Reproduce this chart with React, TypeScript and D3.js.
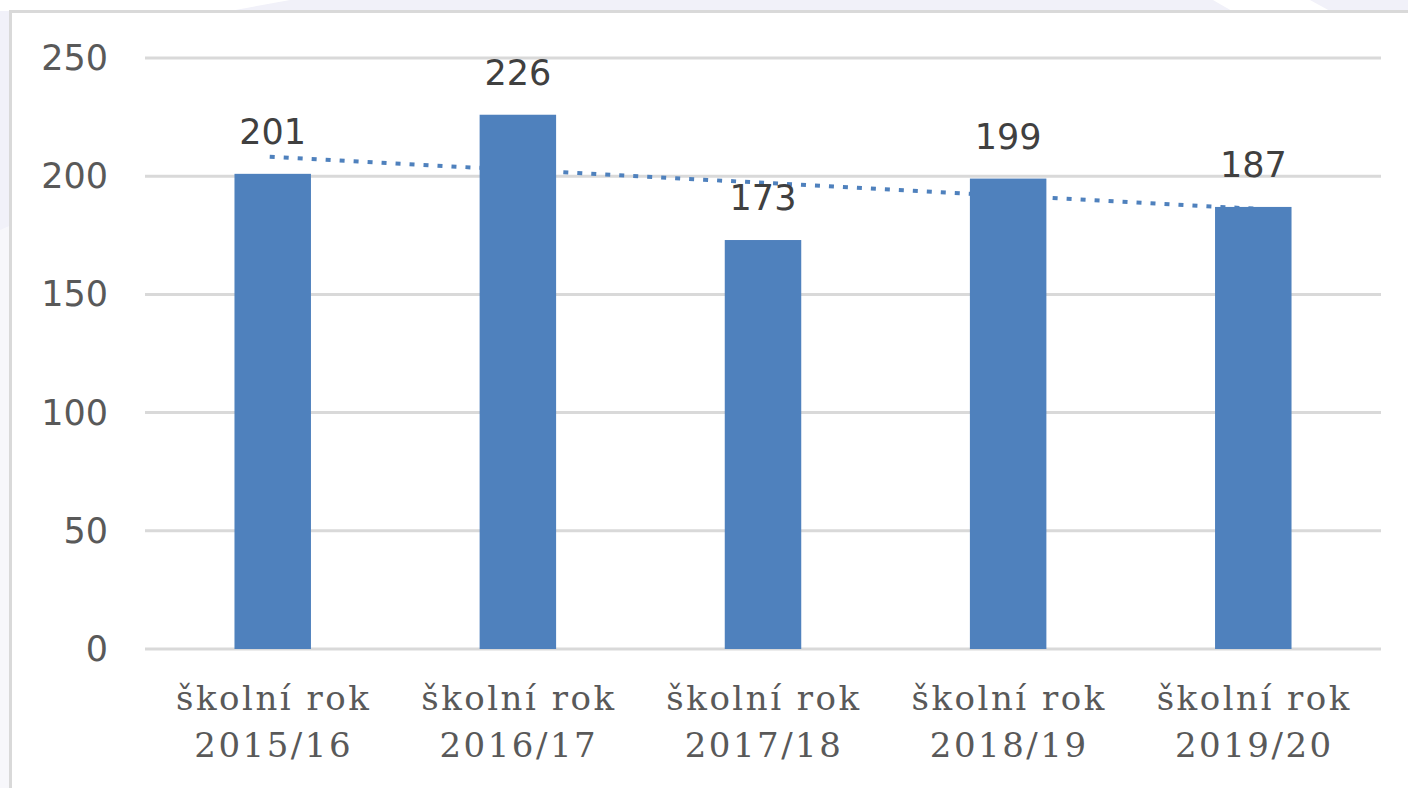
import * as d3 from "d3";
import { useEffect, useRef } from "react";

const categories = [
  ["školní rok", "2015/16"],
  ["školní rok", "2016/17"],
  ["školní rok", "2017/18"],
  ["školní rok", "2018/19"],
  ["školní rok", "2019/20"],
];
const values = [201, 226, 173, 199, 187];
const yTicks = [0, 50, 100, 150, 200, 250];

const width = 1408;
const height = 788;
const margin = { top: 58, right: 27, bottom: 139, left: 145 };

export default function App() {
  const ref = useRef(null);

  useEffect(() => {
    draw();
  });

  function draw() {
    const svg = d3.select(ref.current);
    // clean the slate
    svg.selectAll("*").remove();
    svg.attr("width", width).attr("height", height);

    // faint page background around the chart frame
    svg.append("rect").attr("width", width).attr("height", height).attr("fill", "#f1f1f9");
    svg
      .append("polygon")
      .attr("points", "0,0 290,0 230,11 0,11")
      .attr("fill", "#ffffff");
    svg
      .append("polygon")
      .attr("points", "1213,0 1310,0 1330,11 1232,11")
      .attr("fill", "#ffffff");
    svg
      .append("polygon")
      .attr("points", "0,230 9,226 9,788 0,788")
      .attr("fill", "#f7f7fb");

    // chart frame
    svg
      .append("rect")
      .attr("x", 10.5)
      .attr("y", 11.5)
      .attr("width", width + 20)
      .attr("height", height + 20)
      .attr("fill", "#ffffff")
      .attr("stroke", "#d9d9d9")
      .attr("stroke-width", 3);

    const innerW = width - margin.left - margin.right;
    const innerH = height - margin.top - margin.bottom;
    const plot = svg
      .append("g")
      .attr("transform", "translate(" + margin.left + "," + margin.top + ")");

    const x = d3
      .scaleBand<number>()
      .domain(d3.range(values.length))
      .range([0, innerW])
      .paddingInner(0.688)
      .paddingOuter(0.365);
    const y = d3.scaleLinear().domain([0, 250]).range([innerH, 0]);

    // gridlines
    plot
      .append("g")
      .selectAll("line")
      .data(yTicks)
      .enter()
      .append("line")
      .attr("x1", 0)
      .attr("x2", innerW)
      .attr("y1", (d) => y(d))
      .attr("y2", (d) => y(d))
      .attr("stroke", "#d9d9d9")
      .attr("stroke-width", 3);

    // y tick labels
    plot
      .append("g")
      .selectAll("text")
      .data(yTicks)
      .enter()
      .append("text")
      .attr("x", -37)
      .attr("y", (d) => y(d) + 12)
      .attr("text-anchor", "end")
      .attr("font-family", "DejaVu Sans, Verdana, sans-serif")
      .attr("font-size", 35)
      .attr("fill", "#595959")
      .text((d) => d);

    // linear trendline (least squares), drawn behind bars
    const n = values.length;
    const xs = d3.range(n);
    const mx = d3.mean(xs) as number;
    const my = d3.mean(values) as number;
    const slope =
      d3.sum(xs, (i) => (i - mx) * (values[i] - my)) / d3.sum(xs, (i) => (i - mx) ** 2);
    const trend = xs.map((i) => my + slope * (i - mx));
    const cx = (i: number) => (x(i) as number) + x.bandwidth() / 2;
    plot
      .append("line")
      .attr("x1", cx(0) - 3)
      .attr("x2", cx(n - 1) + 4)
      .attr("y1", y(trend[0]))
      .attr("y2", y(trend[n - 1]))
      .attr("stroke", "#4f81bd")
      .attr("stroke-width", 4)
      .attr("stroke-dasharray", "5 9");

    // bars
    plot
      .append("g")
      .selectAll("rect")
      .data(values)
      .enter()
      .append("rect")
      .attr("x", (_, i) => x(i) as number)
      .attr("y", (d) => y(d))
      .attr("width", x.bandwidth())
      .attr("height", (d) => innerH - y(d))
      .attr("fill", "#4f81bd");

    // data labels
    plot
      .append("g")
      .selectAll("text")
      .data(values)
      .enter()
      .append("text")
      .attr("x", (_, i) => cx(i))
      .attr("y", (d) => y(d) - 30)
      .attr("text-anchor", "middle")
      .attr("font-family", "DejaVu Sans, Verdana, sans-serif")
      .attr("font-size", 35)
      .attr("fill", "#404040")
      .text((d) => d);

    // category labels, two lines
    const cat = plot
      .append("g")
      .selectAll("text")
      .data(categories)
      .enter()
      .append("text")
      .attr("text-anchor", "middle")
      .attr("font-family", "DejaVu Serif, serif")
      .attr("font-size", 34)
      .attr("letter-spacing", 2.5)
      .attr("fill", "#595959");
    cat
      .append("tspan")
      .attr("x", (_, i) => cx(i) + 1)
      .attr("y", innerH + 61)
      .text((d) => d[0]);
    cat
      .append("tspan")
      .attr("x", (_, i) => cx(i) + 1)
      .attr("y", innerH + 108)
      .text((d) => d[1]);
  }

  return (
    <>
      <style>{`body{margin:0}`}</style>
      <svg ref={ref} style={{ display: "block" }}></svg>
    </>
  );
}
